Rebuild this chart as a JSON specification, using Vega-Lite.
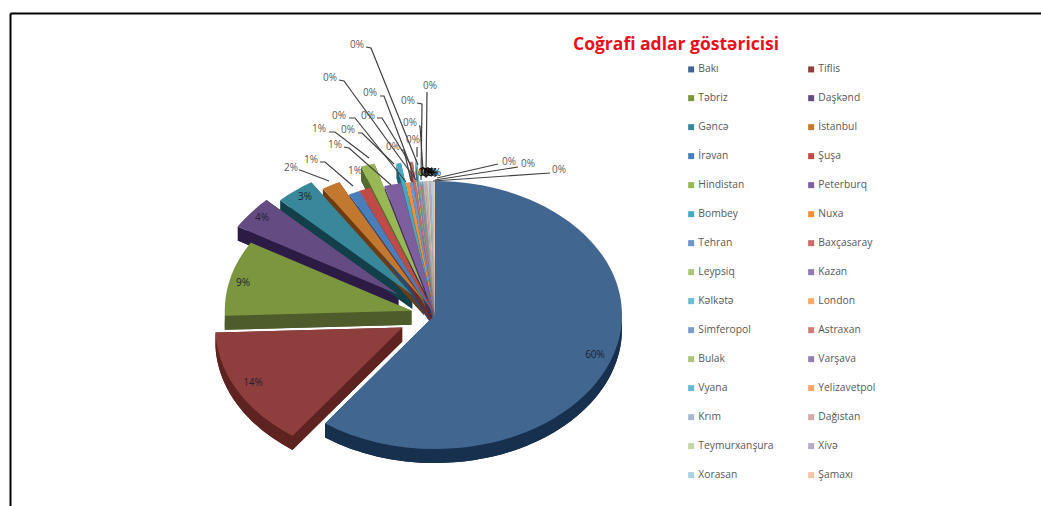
{"$schema":"https://vega.github.io/schema/vega-lite/v6.json","width":1031,"height":493,"padding":{"left":10,"top":13,"right":0,"bottom":0},"autosize":{"type":"none"},"background":"white","config":{"view":{"stroke":null},"font":"Open Sans"},
"title":{"text":"Coğrafi adlar göstəricisi","anchor":"start","frame":"group","orient":"top","dx":563,"dy":44,"offset":4,"color":"#E8101C","font":"Open Sans","fontSize":17.5,"fontWeight":"bold"},
"params":[
{"name":"boom","value":{"Tiflis":37,"Təbriz":24,"Daşkənd":46,"Gəncə":36,"İstanbul":22,"İrəvan":2,"Şuşa":2,"Hindistan":33,"Bombey":28,"Baxçasaray":28,"Kəlkətə":32}},
{"name":"spot","value":{"Bakı":[595,355],"Tiflis":[253,383],"Təbriz":[243,283],"Daşkənd":[262,218],"Gəncə":[305,197],"İstanbul":[291,168,299,170,300,170,329,181],"İrəvan":[311,160,320,162,325,162,353,186],"Şuşa":[355,171],"Hindistan":[319,129,329,132,335,132,369,158],"Peterburq":[335,145,344,147,349,148,391,185],"Bombey":[348,130,358,133,362,133,394,164],"Nuxa":[339,116,349,118,355,118,406,182],"Tehran":[393,147,401,150,404,150,411,181],"Baxçasaray":[368,116,377,118,382,118,411,165],"Leypsiq":[370,93,380,96,384,96,415,178],"Kazan":[330,78,339,80,344,81,416,180],"Kəlkətə":[357,45,366,47,371,48,418,165],"London":[408,101,417,103,422,104,421,180],"Simferopol":[410,123,419,126,420,126,423,170],"Astraxan":[413,140,417,147,417,147,417,157],"Bulak":[430,86,427,92,427,92,426,178],"Varşava":[425,173],"Vyana":[428,173],"Yelizavetpol":[431,173],"Krım":[434,173],"Dağıstan":[427,172],"Teymurxanşura":[430,174],"Xivə":[509,162,498,164,498,164,437,178],"Xorasan":[528,164,518,167,518,167,435,180],"Şamaxı":[559,170,550,173,550,173,433,181]}}
],
"data":{"values":[
{"city":"Bakı","share":60},{"city":"Tiflis","share":14.4},{"city":"Təbriz","share":9.1},{"city":"Daşkənd","share":4},{"city":"Gəncə","share":3.4},{"city":"İstanbul","share":1.6},{"city":"İrəvan","share":0.95},{"city":"Şuşa","share":1.0},{"city":"Hindistan","share":1.2},{"city":"Peterburq","share":1.45},{"city":"Bombey","share":0.4},{"city":"Nuxa","share":0.35},{"city":"Tehran","share":0.3},{"city":"Baxçasaray","share":0.22},{"city":"Leypsiq","share":0.1},{"city":"Kazan","share":0.1},{"city":"Kəlkətə","share":0.1},{"city":"London","share":0.06},{"city":"Simferopol","share":0.06},{"city":"Astraxan","share":0.05},{"city":"Bulak","share":0.05},{"city":"Varşava","share":0.04},{"city":"Vyana","share":0.04},{"city":"Yelizavetpol","share":0.04},{"city":"Krım","share":0.16},{"city":"Dağıstan","share":0.16},{"city":"Teymurxanşura","share":0.16},{"city":"Xivə","share":0.16},{"city":"Xorasan","share":0.17},{"city":"Şamaxı","share":0.18}
]},
"transform":[
{"window":[{"op":"sum","field":"share","as":"cum"}]},
{"calculate":"datum.cum/100*2*PI","as":"a1"},
{"calculate":"datum.a1-datum.share/100*2*PI","as":"a0"},
{"calculate":"(datum.a0+datum.a1)/2","as":"mid"},
{"calculate":"435+(boom[datum.city]||0)*sin(datum.mid)","as":"cx"},
{"calculate":"315-0.716*(boom[datum.city]||0)*cos(datum.mid)","as":"cy"},
{"calculate":"round(18700*sin(datum.a0))/100","as":"x0"},
{"calculate":"round(-13400*cos(datum.a0))/100","as":"y0"},
{"calculate":"round(18700*sin(datum.a1))/100","as":"x1"},
{"calculate":"round(-13400*cos(datum.a1))/100","as":"y1"},
{"calculate":"datum.y0+14","as":"y0d"},
{"calculate":"datum.y1+14","as":"y1d"},
{"calculate":"'M0,0L'+datum.x0+','+datum.y0+'A187,134,0,'+(datum.a1-datum.a0>PI?1:0)+',1,'+datum.x1+','+datum.y1+'Z'","as":"topPath"},
{"calculate":"'M0,14L'+datum.x0+','+datum.y0d+'A187,134,0,'+(datum.a1-datum.a0>PI?1:0)+',1,'+datum.x1+','+datum.y1d+'Z'","as":"lowPath"},
{"calculate":"'M0,0L'+datum.x0+','+datum.y0+'L'+datum.x0+','+datum.y0d+'L0,14L0,0L'+datum.x1+','+datum.y1+'L'+datum.x1+','+datum.y1d+'L0,14Z'","as":"edgePath"},
{"calculate":"max(datum.a0,PI/2)","as":"s0"},
{"calculate":"min(datum.a1,3*PI/2)","as":"s1"},
{"calculate":"round(18700*sin(datum.s0))/100","as":"sx0"},
{"calculate":"round(-13400*cos(datum.s0))/100","as":"sy0"},
{"calculate":"round(18700*sin(datum.s1))/100","as":"sx1"},
{"calculate":"round(-13400*cos(datum.s1))/100","as":"sy1"},
{"calculate":"datum.s1>datum.s0?'M'+datum.sx0+','+datum.sy0+'A187,134,0,0,1,'+datum.sx1+','+datum.sy1+'L'+datum.sx1+','+(datum.sy1+14)+'A187,134,0,0,0,'+datum.sx0+','+(datum.sy0+14)+'Z':'M0,0L0,14Z'","as":"rimPath"},
{"calculate":"format(datum.share/100,'.0%')","as":"label"},
{"calculate":"datum.share>=3?'#1F1F35':(length(spot[datum.city])==2&&datum.share<0.5?'#000000':'#595959')","as":"ink"}
],
"layer":[
{"transform":[{"fold":["lowPath","edgePath","rimPath"],"as":["kind","wall"]}],
"mark":{"type":"point","filled":true,"opacity":1,"size":4,"strokeWidth":0},
"encoding":{
"x":{"field":"cx","type":"quantitative","scale":{"domain":[10,1041],"range":[0,1031]},"axis":{"orient":"top","labels":false,"ticks":false,"grid":false,"title":null,"domainColor":"#000000","domainWidth":2}},
"y":{"field":"cy","type":"quantitative","scale":{"domain":[13,506],"range":[0,493]},"axis":{"orient":"left","labels":false,"ticks":false,"grid":false,"title":null,"domainColor":"#000000","domainWidth":2}},
"shape":{"field":"wall","type":"nominal","scale":null},
"color":{"field":"city","type":"nominal","legend":null,"scale":{"domain":["Bakı","Tiflis","Təbriz","Daşkənd","Gəncə","İstanbul","İrəvan","Şuşa","Hindistan","Peterburq","Bombey","Nuxa","Tehran","Baxçasaray","Leypsiq","Kazan","Kəlkətə","London","Simferopol","Astraxan","Bulak","Varşava","Vyana","Yelizavetpol","Krım","Dağıstan","Teymurxanşura","Xivə","Xorasan","Şamaxı"],"range":["#16304E","#5E2220","#4E5B2A","#2C1B45","#123F4A","#6F3C12","#254A75","#6E2A28","#556A2E","#3F2E58","#1F6273","#8F5018","#3C5A85","#7A3C3A","#637742","#4F4070","#3C7080","#8F6038","#455A80","#7E4443","#64744A","#50466A","#3A6E7C","#8E5C3A","#626E80","#806060","#727E62","#696478","#627A84","#917260"]}}
}},
{"mark":{"type":"point","filled":true,"opacity":1,"size":4,"strokeWidth":0},
"encoding":{
"x":{"field":"cx","type":"quantitative","scale":{"domain":[10,1041],"range":[0,1031]},"axis":{"orient":"top","labels":false,"ticks":false,"grid":false,"title":null,"domainColor":"#000000","domainWidth":2}},
"y":{"field":"cy","type":"quantitative","scale":{"domain":[13,506],"range":[0,493]},"axis":{"orient":"left","labels":false,"ticks":false,"grid":false,"title":null,"domainColor":"#000000","domainWidth":2}},
"shape":{"field":"topPath","type":"nominal","scale":null},
"color":{"field":"city","type":"nominal","legend":{"title":null,"orient":"none","direction":"horizontal","legendX":676,"legendY":51,"columns":2,"symbolType":"square","symbolSize":36,"symbolStrokeWidth":0,"labelFont":"Open Sans","labelFontSize":10.3,"labelColor":"#595959","rowPadding":18,"columnPadding":32,"gridAlign":"all","labelOffset":2,"labelLimit":120},"scale":{"domain":["Bakı","Tiflis","Təbriz","Daşkənd","Gəncə","İstanbul","İrəvan","Şuşa","Hindistan","Peterburq","Bombey","Nuxa","Tehran","Baxçasaray","Leypsiq","Kazan","Kəlkətə","London","Simferopol","Astraxan","Bulak","Varşava","Vyana","Yelizavetpol","Krım","Dağıstan","Teymurxanşura","Xivə","Xorasan","Şamaxı"],"range":["#416690","#8E3F3D","#7B963F","#644C82","#38879B","#C3782F","#4A7EBB","#BE4B48","#98B855","#7D5FA0","#46AAC4","#F38F3A","#6E95C9","#CC6C6A","#AAC576","#9279B2","#6CBDD2","#F7A96D","#7C9ACC","#D27C7A","#ACC47C","#9080B0","#66B8D0","#F5A46A","#A9B9D3","#D5A9A9","#C5D5AA","#B3ABC6","#A9D0DE","#F7C3A5"]}}
}},
{"transform":[{"filter":"length(spot[datum.city])>2"},{"calculate":"spot[datum.city][2]","as":"ax"},{"calculate":"spot[datum.city][3]","as":"ay"},{"calculate":"'M0,0L'+(spot[datum.city][4]-datum.ax)+','+(spot[datum.city][5]-datum.ay)+'L'+(spot[datum.city][6]-datum.ax)+','+(spot[datum.city][7]-datum.ay)","as":"leader"}],
"mark":{"type":"point","filled":false,"opacity":1,"size":4,"stroke":"#404040","strokeWidth":1.2},
"encoding":{
"x":{"field":"ax","type":"quantitative","scale":{"domain":[10,1041],"range":[0,1031]},"axis":{"orient":"top","labels":false,"ticks":false,"grid":false,"title":null,"domainColor":"#000000","domainWidth":2}},
"y":{"field":"ay","type":"quantitative","scale":{"domain":[13,506],"range":[0,493]},"axis":{"orient":"left","labels":false,"ticks":false,"grid":false,"title":null,"domainColor":"#000000","domainWidth":2}},
"shape":{"field":"leader","type":"nominal","scale":null}
}},
{"transform":[{"calculate":"spot[datum.city][0]","as":"tx"},{"calculate":"spot[datum.city][1]","as":"ty"}],
"mark":{"type":"text","font":"Open Sans","fontSize":10,"align":"center","baseline":"middle"},
"encoding":{
"x":{"field":"tx","type":"quantitative","scale":{"domain":[10,1041],"range":[0,1031]},"axis":{"orient":"top","labels":false,"ticks":false,"grid":false,"title":null,"domainColor":"#000000","domainWidth":2}},
"y":{"field":"ty","type":"quantitative","scale":{"domain":[13,506],"range":[0,493]},"axis":{"orient":"left","labels":false,"ticks":false,"grid":false,"title":null,"domainColor":"#000000","domainWidth":2}},
"text":{"field":"label","type":"nominal"},
"fill":{"field":"ink","type":"nominal","scale":null}
}}
],
"resolve":{"scale":{"color":"independent"},"legend":{"color":"independent"}}
}
